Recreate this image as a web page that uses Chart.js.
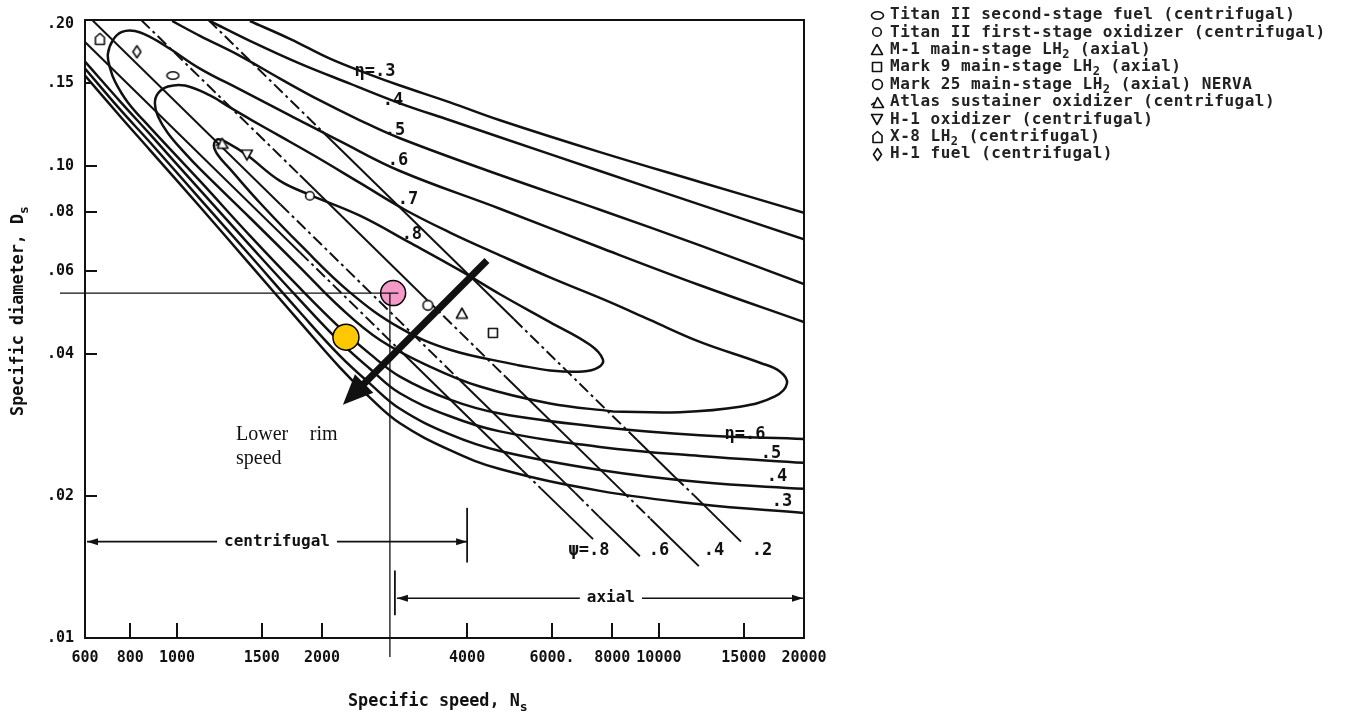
<!DOCTYPE html>
<html><head><meta charset="utf-8">
<script src="https://cdn.jsdelivr.net/npm/chart.js"></script>
<style>html,body{margin:0;padding:0;background:#fff;}canvas{display:block;}</style>
</head><body>
<canvas id="c" width="1347" height="717"></canvas>
<script>
// ---------------- DATA (Ns = specific speed, Ds = specific diameter) ----------------
const xTickValues = [644.5, 800, 1000, 1500, 2000, 4000, 6000, 8000, 10000, 15000, 20000];
const xTickLabels = ['600','800','1000','1500','2000','4000','6000.','8000','10000','15000','20000'];
const yTickValues = [0.01, 0.02, 0.04, 0.06, 0.08, 0.10, 0.15, 0.20];
const yTickLabels = ['.01','.02','.04','.06','.08','.10','.15','.20'];

// efficiency contours (eta)
const eta3Upper = [[1417,0.2029],[1715,0.1860],[2077,0.1688],[2514,0.1562],[2902,0.1481],[3686,0.1364],[4679,0.1250],[7545,0.1070],[12165,0.0925],[20000,0.0796]];
const eta3Lower = [[644.5,0.1555],[762,0.1275],[879,0.1081],[1116,0.0820],[1417,0.0619],[1800,0.0467],[2179,0.0374],[2514,0.0323],[2902,0.0285],[3686,0.0250],[4679,0.0228],[7545,0.0205],[12165,0.0192],[20000,0.0184]];
const eta4Upper = [[1171,0.2029],[1417,0.1842],[1800,0.1648],[2285,0.1495],[2902,0.1358],[3686,0.1250],[5942,0.1060],[9579,0.0899],[20000,0.0699]];
const eta4Lower = [[644.5,0.1609],[762,0.1318],[879,0.1123],[1116,0.0852],[1417,0.0647],[1800,0.0490],[2179,0.0396],[2514,0.0346],[2902,0.0306],[3686,0.0270],[4679,0.0249],[7545,0.0227],[12165,0.0214],[20000,0.0207]];
const eta5Upper = [[977,0.2029],[1116,0.1887],[1351,0.1712],[1636,0.1532],[1980,0.1377],[2397,0.1250],[2902,0.1145],[4679,0.0957],[7545,0.0808],[12165,0.0679],[20000,0.0562]];
const eta5Lower = [[644.5,0.1664],[762,0.1371],[879,0.1168],[1116,0.0890],[1417,0.0679],[1800,0.0520],[2179,0.0424],[2514,0.0372],[2902,0.0330],[3686,0.0295],[4679,0.0274],[7545,0.0254],[12165,0.0243],[20000,0.0235]];
const eta6 = [[20000,0.0467],[12165,0.0559],[7545,0.0672],[4679,0.0812],[2902,0.0976],[2179,0.1129],[1715,0.1281],[1351,0.1453],[1116,0.1609],[967,0.1772],[879,0.1878],[818,0.1933],[769,0.1924],[737,0.1851],[719,0.1729],[726,0.1616],[744,0.1510],[791,0.1364],[879,0.1208],[1116,0.0930],[1417,0.0712],[1800,0.0551],[2179,0.0454],[2514,0.0400],[2902,0.0358],[3686,0.0320],[4679,0.0299],[7545,0.0280],[12165,0.0269],[20000,0.0264]];
const eta7 = [[8027,0.0302],[11055,0.0301],[14723,0.0309],[17405,0.0325],[18436,0.0346],[17824,0.0367],[16200,0.0383],[12165,0.0424],[9579,0.0472],[7913,0.0515],[5942,0.0581],[4679,0.0647],[3686,0.0723],[2972,0.0808],[2397,0.0921],[1933,0.1050],[1636,0.1157],[1431,0.1250],[1288,0.1331],[1171,0.1411],[1039,0.1481],[958,0.1474],[913,0.1425],[900,0.1358],[913,0.1275],[958,0.1174],[1039,0.1065],[1116,0.0986],[1417,0.0777],[1800,0.0610],[2179,0.0502],[2638,0.0428],[3349,0.0376],[4253,0.0341],[5942,0.0314],[8027,0.0302]];
const eta8 = [[5074,0.0379],[5942,0.0369],[6956,0.0367],[7471,0.0374],[7654,0.0389],[7193,0.0418],[5942,0.0467],[4679,0.0535],[3865,0.0601],[3044,0.0688],[2397,0.0785],[1887,0.0869],[1636,0.0930],[1397,0.1055],[1276,0.1118],[1216,0.1140],[1193,0.1107],[1216,0.1055],[1288,0.0986],[1486,0.0836],[1800,0.0682],[2285,0.0540],[2902,0.0454],[3686,0.0408],[5074,0.0379]];

// head-coefficient lines (psi)
const psi8 = [[644.5,0.1831],[1800,0.0656],[2900,0.0407],[5200,0.0227],[5700,0.0207],[7300,0.0162]];
const psi6 = [[667,0.2039],[1640,0.0829],[3860,0.0352],[6700,0.0203],[7500,0.0181],[9130,0.0149]];
const psi4 = [[843,0.2039],[1800,0.0956],[3300,0.0521],[4800,0.0358],[8300,0.0207],[9600,0.0179],[12100,0.0142]];
const psi2 = [[1162,0.2039],[2000,0.1185],[5000,0.0474],[9000,0.0263],[10800,0.0219],[11800,0.0201],[14800,0.0160]];

// turbopump design points
const titanFuel = [981, 0.1555];
const titanOx   = [1887, 0.0865];
const m1Pump    = [3902, 0.0488];
const mark9     = [4524, 0.0443];
const mark25    = [3317, 0.0507];
const atlasOx   = [1240, 0.1118];
const h1Ox      = [1397, 0.1055];
const x8Pump    = [692, 0.186];
const h1Fuel    = [826, 0.1746];
const pinkPoint   = [2809, 0.0538];
const yellowPoint = [2242, 0.0434];

// reference lines and arrows
const refNs = 2766, refDs = 0.0538, refLineEndNs = 2880;
const arrowFrom = [4398, 0.0631], arrowTo = [2210, 0.0312];
const centrifugalRange = [644.5, 4000];
const axialRange = [2833, 20000];

// labels
const etaTopLabels = ['\u03b7=.3','.4','.5','.6','.7','.8'];
const etaTopAt = [[2575,0.1585],[2807,0.1377],[2834,0.1191],[2874,0.1025],[3014,0.0848],[3072,0.0716]];
const etaLowLabels = ['\u03b7=.6','.5','.4','.3'];
const etaLowAt = [[15083,0.0270],[17076,0.0246],[17572,0.0220],[18000,0.0195]];
const psiLabels = ['\u03c8=.8','.6','.4','.2'];
const psiLabelNs = [7157, 10000, 13007, 16356];
const legendLabels = [
  'Titan II second-stage fuel (centrifugal)',
  'Titan II first-stage oxidizer (centrifugal)',
  'M-1 main-stage LH_2 (axial)',
  'Mark 9 main-stage LH_2 (axial)',
  'Mark 25 main-stage LH_2 (axial) NERVA',
  'Atlas sustainer oxidizer (centrifugal)',
  'H-1 oxidizer (centrifugal)',
  'X-8 LH_2 (centrifugal)',
  'H-1 fuel (centrifugal)'
];

// ---------------- STYLE ----------------
const ink = '#111';
const dashDot = [12, 4, 3, 4];
const psi8Dash = [0,1,0,1,0], psi6Dash = [0,1,0,1,0], psi4Dash = [1,0,1,0,1,0], psi2Dash = [1,0,1,0,1,0];
const MONO = '"DejaVu Sans Mono", monospace';

function mk(w, h, fn) {
  const c = document.createElement('canvas'); c.width = w; c.height = h;
  const g = c.getContext('2d'); g.lineWidth = 1.6; g.strokeStyle = ink; g.fillStyle = '#fff'; g.lineJoin = 'round';
  fn(g); return c;
}
const imgEllipse = mk(15, 11, g => { g.beginPath(); g.ellipse(7.5, 5.5, 6, 3.7, 0, 0, 2*Math.PI); g.fill(); g.stroke(); });
const imgCircle  = mk(12, 12, g => { g.beginPath(); g.arc(6, 6, 4.3, 0, 2*Math.PI); g.fill(); g.stroke(); });
const imgCircleL = mk(13, 13, g => { g.beginPath(); g.arc(6.5, 6.5, 4.9, 0, 2*Math.PI); g.fill(); g.stroke(); });
const imgTri     = mk(14, 13, g => { g.beginPath(); g.moveTo(7, 1.5); g.lineTo(12.5, 11.5); g.lineTo(1.5, 11.5); g.closePath(); g.fill(); g.stroke(); });
const imgSquare  = mk(12, 12, g => { g.beginPath(); g.rect(1.5, 1.5, 9, 9); g.fill(); g.stroke(); });
const imgAtlas   = mk(15, 13, g => { g.beginPath(); g.moveTo(7.5, 1.5); g.lineTo(13.5, 11.5); g.lineTo(3, 11.5); g.closePath(); g.fill(); g.stroke(); g.beginPath(); g.moveTo(5, 6.5); g.lineTo(1.2, 9); g.stroke(); });
const imgTriDown = mk(14, 13, g => { g.beginPath(); g.moveTo(1.5, 1.5); g.lineTo(12.5, 1.5); g.lineTo(7, 11.5); g.closePath(); g.fill(); g.stroke(); });
const imgHouse   = mk(13, 14, g => { g.beginPath(); g.moveTo(2, 12.5); g.lineTo(2, 5.5); g.lineTo(6.5, 1.5); g.lineTo(11, 5.5); g.lineTo(11, 12.5); g.closePath(); g.fill(); g.stroke(); });
const imgDiamond = mk(11, 15, g => { g.beginPath(); g.moveTo(5.5, 1.5); g.lineTo(9.5, 7.5); g.lineTo(5.5, 13.5); g.lineTo(1.5, 7.5); g.closePath(); g.fill(); g.stroke(); });
const legendImgs = [imgEllipse, imgCircle, imgTri, imgSquare, imgCircleL, imgAtlas, imgTriDown, imgHouse, imgDiamond];

const toXY = pts => pts.map(p => ({x: p[0], y: p[1]}));
function curve(points, width) {
  return { data: toXY(points), showLine: true, borderColor: ink, borderWidth: width, pointRadius: 0, pointHoverRadius: 0,
           tension: 0.4, fill: false, order: 4 };
}
function psiLine(points, flags) {
  const d = curve(points, 2); d.tension = 0; d.order = 3;
  d.segment = { borderDash: c => flags[c.p0DataIndex] ? dashDot : undefined };
  return d;
}
function marker(pt, img) {
  return { data: toXY([pt]), pointStyle: img, pointRadius: 6, borderColor: ink, backgroundColor: '#fff', showLine: false, order: 2 };
}
function bigDot(pt, color, r) {
  return { data: toXY([pt]), pointStyle: 'circle', pointRadius: r, borderWidth: 1.5, borderColor: '#000', backgroundColor: color, showLine: false, order: 0 };
}

const datasets = [
  bigDot(pinkPoint, '#f49ac8', 12.5),
  bigDot(yellowPoint, '#ffc800', 13),
  marker(titanFuel, imgEllipse), marker(titanOx, imgCircle), marker(m1Pump, imgTri), marker(mark9, imgSquare),
  marker(mark25, imgCircleL), marker(atlasOx, imgAtlas), marker(h1Ox, imgTriDown), marker(x8Pump, imgHouse), marker(h1Fuel, imgDiamond),
  psiLine(psi8, psi8Dash), psiLine(psi6, psi6Dash), psiLine(psi4, psi4Dash), psiLine(psi2, psi2Dash),
  curve(eta3Upper, 2.5), curve(eta3Lower, 2.5), curve(eta4Upper, 2.5), curve(eta4Lower, 2.5),
  curve(eta5Upper, 2.5), curve(eta5Lower, 2.5), curve(eta6, 2.5), curve(eta7, 2.5), curve(eta8, 2.5)
];

function richText(ctx, str, x, y, size, align, spacing) {
  const parts = [];
  for (let i = 0; i < str.length; i++) {
    if (str[i] === '_') { parts.push({t: str[i+1], sub: true}); i++; }
    else if (parts.length && !parts[parts.length-1].sub) parts[parts.length-1].t += str[i];
    else parts.push({t: str[i], sub: false});
  }
  if ('letterSpacing' in ctx) ctx.letterSpacing = (spacing || 0) + 'px';
  const mainF = `bold ${size}px ${MONO}`, subF = `bold ${Math.round(size*0.78)}px ${MONO}`;
  let total = 0;
  parts.forEach(p => { ctx.font = p.sub ? subF : mainF; p.w = ctx.measureText(p.t).width; total += p.w; });
  let cx = align === 'center' ? x - total/2 : x;
  ctx.textAlign = 'left'; ctx.textBaseline = 'middle';
  parts.forEach(p => { ctx.font = p.sub ? subF : mainF; ctx.fillText(p.t, cx, p.sub ? y + size*0.32 : y); cx += p.w; });
  if ('letterSpacing' in ctx) ctx.letterSpacing = '0px';
}

const overlay = {
  id: 'overlay',
  afterDatasetsDraw(chart) {
    const {ctx, chartArea: a} = chart;
    const sx = chart.scales.x, sy = chart.scales.y;
    const X = v => sx.getPixelForValue(v), Y = v => sy.getPixelForValue(v);
    ctx.save();
    ctx.strokeStyle = ink; ctx.fillStyle = ink; ctx.lineCap = 'butt';
    const seg = (x1, y1, x2, y2, w) => { ctx.lineWidth = w; ctx.beginPath(); ctx.moveTo(x1, y1); ctx.lineTo(x2, y2); ctx.stroke(); };
    // frame
    ctx.lineWidth = 2; ctx.strokeRect(a.left, a.top, a.right - a.left, a.bottom - a.top);
    // inward ticks
    xTickValues.forEach((v, i) => { if (i === 0 || i === xTickValues.length - 1) return; const p = Math.round(X(v)); seg(p, a.bottom, p, a.bottom - 15, 2); });
    yTickValues.forEach(v => { if (v <= yTickValues[0] || v >= yTickValues[yTickValues.length-1]) return; const p = Math.round(Y(v)); seg(a.left, p, a.left + (v === 0.15 ? 7 : 12), p, 2); });
    // reference lines through the pink design point
    const rx = X(refNs), ry = Y(refDs);
    seg(a.left - 25, ry, X(refLineEndNs), ry, 1.3);
    seg(rx, ry, rx, a.bottom + 19, 1.3);
    // big arrow "lower rim speed"
    const S = {x: X(arrowFrom[0]), y: Y(arrowFrom[1])}, T = {x: X(arrowTo[0]), y: Y(arrowTo[1])};
    const dx = T.x - S.x, dy = T.y - S.y, L = Math.hypot(dx, dy), ux = dx/L, uy = dy/L, nx = -uy, ny = ux;
    const hl = 30, hw = 13, bx = T.x - ux*hl, by = T.y - uy*hl;
    seg(S.x, S.y, bx + ux*3, by + uy*3, 7);
    ctx.beginPath(); ctx.moveTo(T.x, T.y); ctx.lineTo(bx + nx*hw, by + ny*hw); ctx.lineTo(bx - nx*hw, by - ny*hw); ctx.closePath(); ctx.fill();
    // range arrows
    const head = (x, y, dir) => { ctx.beginPath(); ctx.moveTo(x, y); ctx.lineTo(x - dir*11, y - 3.5); ctx.lineTo(x - dir*11, y + 3.5); ctx.closePath(); ctx.fill(); };
    function rangeArrow(r, ds, textNs, text, barDs, barAtStart) {
      const y = Y(ds), x0 = X(r[0]) + 2, x1 = X(r[1]) - (barAtStart ? 1 : 0), tc = X(textNs);
      ctx.font = `bold 16px ${MONO}`; const tw = ctx.measureText(text).width;
      seg(x0, y, tc - tw/2 - 7, y, 1.6); seg(tc + tw/2 + 7, y, x1, y, 1.6);
      head(x0, y, -1); head(x1, y, 1);
      const bxp = barAtStart ? X(r[0]) : X(r[1]);
      seg(bxp, Y(barDs[0]), bxp, Y(barDs[1]), 1.8);
      ctx.textAlign = 'center'; ctx.textBaseline = 'middle'; ctx.fillText(text, tc, y);
    }
    rangeArrow(centrifugalRange, 0.016, 1613, 'centrifugal', [0.01887, 0.01445], false);
    rangeArrow(axialRange, 0.01214, 7951, 'axial', [0.0139, 0.01118], true);
    // eta and psi labels
    ctx.font = `bold 17px ${MONO}`; ctx.textAlign = 'center'; ctx.textBaseline = 'middle';
    etaTopLabels.forEach((t, i) => ctx.fillText(t, X(etaTopAt[i][0]), Y(etaTopAt[i][1])));
    etaLowLabels.forEach((t, i) => ctx.fillText(t, X(etaLowAt[i][0]), Y(etaLowAt[i][1])));
    psiLabels.forEach((t, i) => ctx.fillText(t, X(psiLabelNs[i]), Y(0.01532)));
    // "Lower rim speed"
    ctx.font = '20px "Liberation Serif", "Times New Roman", serif'; ctx.textAlign = 'left'; ctx.textBaseline = 'alphabetic';
    ctx.fillText('Lower', X(1326), Y(0.02624));
    ctx.fillText('rim', X(1887), Y(0.02624));
    ctx.fillText('speed', X(1326), Y(0.02336));
    // axis titles
    richText(ctx, 'Specific speed, N_s', 348, 702, 16.8, 'left');
    ctx.save(); ctx.translate(19, 311); ctx.rotate(-Math.PI/2);
    richText(ctx, 'Specific diameter, D_s', 0, 0, 16.8, 'center');
    ctx.restore();
    // legend
    legendLabels.forEach((t, i) => {
      const yc = 15 + i*17.4, img = legendImgs[i];
      ctx.drawImage(img, Math.round(877 - img.width/2), Math.round(yc - img.height/2));
      ctx.fillStyle = '#222';
      richText(ctx, t, 890, yc, 16, 'left', 0.5);
      ctx.fillStyle = ink;
    });
    ctx.restore();
  }
};

const tickFont = { family: MONO, size: 15, weight: 'bold' };
new Chart(document.getElementById('c'), {
  type: 'scatter',
  data: { datasets },
  options: {
    responsive: false, animation: false, events: [],
    layout: { padding: { left: 0, top: 16, right: 543, bottom: 0 } },
    plugins: { legend: { display: false }, tooltip: { enabled: false } },
    scales: {
      x: {
        type: 'logarithmic', min: 644.5, max: 20000, position: 'bottom',
        afterBuildTicks: s => { s.ticks = xTickValues.map(v => ({ value: v })); },
        afterFit: s => { s.height = 79; },
        ticks: { autoSkip: false, maxRotation: 0, minRotation: 0, padding: 11, color: ink, font: tickFont,
                 callback: (v, i) => xTickLabels[i] },
        grid: { display: false, drawTicks: false }, border: { display: false }
      },
      y: {
        type: 'logarithmic', min: 0.01, max: 0.2039, position: 'left',
        afterBuildTicks: s => { s.ticks = yTickValues.map(v => ({ value: v })); },
        afterFit: s => { s.width = 85; },
        ticks: { autoSkip: false, padding: 11, color: ink, font: tickFont, callback: (v, i) => yTickLabels[i] },
        grid: { display: false, drawTicks: false }, border: { display: false }
      }
    }
  },
  plugins: [overlay]
});
</script>
</body></html>
